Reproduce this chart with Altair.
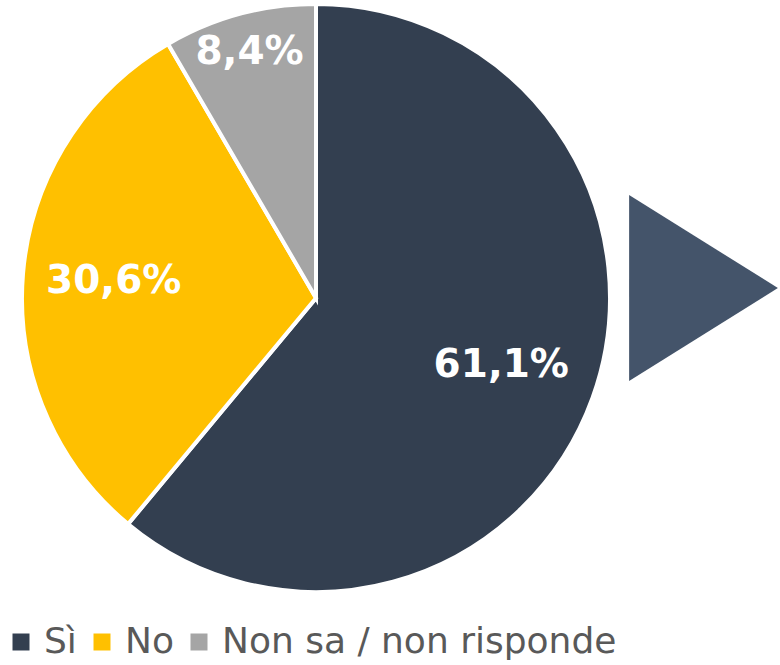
import altair as alt
import pandas as pd

categories = ["Sì", "No", "Non sa / non risponde"]
values = [61.1, 30.6, 8.4]
labels = ["61,1%", "30,6%", "8,4%"]
colors = ["#333F50", "#FFC000", "#A5A5A5"]

df = pd.DataFrame({
    "cat": categories,
    "val": values,
    "label": labels,
    "idx": list(range(len(categories))),
})

CX, CY, R = 316, 298, 294

color_enc = alt.Color(
    "cat:N",
    scale=alt.Scale(domain=categories, range=colors),
    legend=alt.Legend(
        title=None,
        orient="none",
        direction="horizontal",
        legendX=3,
        legendY=624,
        symbolType="square",
        symbolSize=289,
        symbolStrokeWidth=0,
        labelFont="DejaVu Sans",
        labelFontSize=36,
        labelColor="#595959",
        labelOffset=5,
        columnPadding=7,
        padding=0,
        labelLimit=800,
    ),
)

base = alt.Chart(df)

arcs = base.mark_arc(outerRadius=R, stroke="white", strokeWidth=4).encode(
    theta=alt.Theta("val:Q", stack=True),
    color=color_enc,
    order=alt.Order("idx:Q"),
    x=alt.value(CX),
    y=alt.value(CY),
)

def label_layer(cat, radius):
    return base.transform_calculate(
        shown=f"datum.cat === '{cat}' ? datum.label : ''"
    ).mark_text(
        radius=radius,
        font="DejaVu Sans",
        fontWeight="bold",
        fontSize=39,
        color="white",
        align="center",
        baseline="middle",
    ).encode(
        theta=alt.Theta("val:Q", stack=True),
        order=alt.Order("idx:Q"),
        text="shown:N",
        x=alt.value(CX),
        y=alt.value(CY),
    )

t1 = label_layer("Sì", 197)
t2 = label_layer("No", 203)
t3 = label_layer("Non sa / non risponde", 255)

arrow = alt.Chart(alt.Data(values=[{"a": 1}])).mark_point(
    shape="M-0.8,-1L0.8,0L-0.8,1Z",
    filled=True,
    size=186 * 186,
    color="#44546A",
    opacity=1,
    strokeWidth=0,
).encode(x=alt.value(703.5), y=alt.value(288))

chart = alt.layer(arcs, t1, t2, t3, arrow).properties(
    width=780, height=665, padding=0, autosize=alt.AutoSizeParams(type="none")
).configure_view(stroke=None)

chart.save("out.html", embed_options={"renderer": "svg", "actions": False})
